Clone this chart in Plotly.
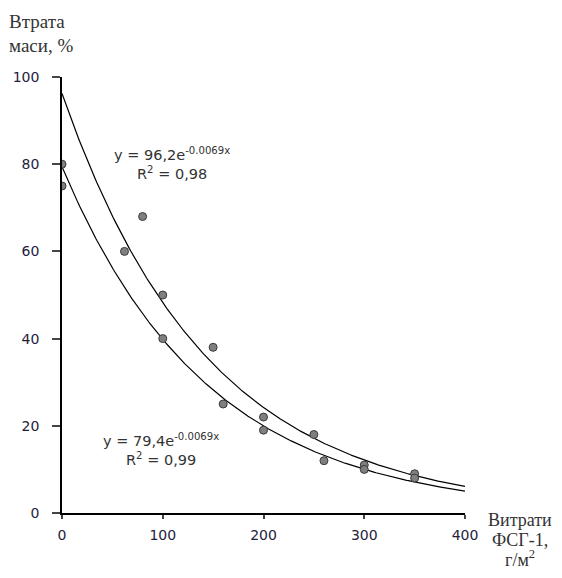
import numpy as np
import plotly.graph_objects as go

# Data
x_upper = [0, 62, 80, 100, 150, 200, 250, 300, 350]
y_upper = [80, 60, 68, 50, 38, 22, 18, 11, 9]
x_lower = [0, 100, 160, 200, 260, 300, 350]
y_lower = [75, 40, 25, 19, 12, 10, 8]

# Trendline parameters (from equations on the chart)
a_upper, b_upper = 96.2, -0.0069
a_lower, b_lower = 79.4, -0.0069

x_ticks = [0, 100, 200, 300, 400]
y_ticks = [0, 20, 40, 60, 80, 100]

xs = np.linspace(0, 400, 300)

fig = go.Figure()
marker = dict(size=8, color="#7f7f7f", line=dict(color="#3a3a3a", width=1))
fig.add_trace(go.Scatter(x=xs, y=a_upper * np.exp(b_upper * xs), mode="lines",
                         line=dict(color="black", width=1.2), showlegend=False, hoverinfo="skip"))
fig.add_trace(go.Scatter(x=xs, y=a_lower * np.exp(b_lower * xs), mode="lines",
                         line=dict(color="black", width=1.2), showlegend=False, hoverinfo="skip"))
fig.add_trace(go.Scatter(x=x_upper, y=y_upper, mode="markers", marker=marker, showlegend=False))
fig.add_trace(go.Scatter(x=x_lower, y=y_lower, mode="markers", marker=marker, showlegend=False))

OFF = 8  # page body margin
W, H = 546, 562
L, T = 62 - OFF, 77 - OFF
R = W - (465 - OFF)
B = H - (513 - OFF)
pw, ph = W - L - R, H - T - B


def px(xp):
    return (xp - OFF - L) / pw


def py(yp):
    return (H - B - (yp - OFF)) / ph


tickfont = dict(family="DejaVu Sans, Verdana, sans-serif", size=14, color="#241c3c")
eqfont = dict(family="DejaVu Sans, Verdana, sans-serif", size=14.5, color="#333333")
serif = dict(family="Liberation Serif, Times New Roman, serif", size=19, color="#333333")
serif_x = dict(family="Liberation Serif, Times New Roman, serif", size=18, color="#333333")

annotations = []


def txt(text, x, y, font, xanchor="center"):
    annotations.append(dict(text=text, xref="paper", yref="paper", x=px(x), y=py(y),
                            xanchor=xanchor, yanchor="middle", showarrow=False, font=font,
                            align="center"))


txt("y = 96,2e<sup>-0.0069x</sup><br>R<sup>2</sup> = 0,98", 172, 163, eqfont)
txt("y = 79,4e<sup>-0.0069x</sup><br>R<sup>2</sup> = 0,99", 161, 449, eqfont)
txt("Втрата", 7, 21, serif, xanchor="left")
txt("маси, %", 7, 46, serif, xanchor="left")
txt("Витрати", 520, 520, serif_x)
txt("ФСГ-1,", 520, 540, serif_x)
txt("г/м<sup>2</sup>", 520, 558, serif_x)

fig.update_layout(
    width=W, height=H,
    margin=dict(l=L, r=R, t=T, b=B),
    paper_bgcolor="white", plot_bgcolor="white",
    xaxis=dict(range=[0, 400], tickvals=x_ticks, ticks="outside", ticklen=4, tickwidth=1.5,
               showline=True, linecolor="black", linewidth=1.5, showgrid=False, zeroline=False,
               tickfont=tickfont, ticklabelstandoff=4, automargin=False),
    yaxis=dict(range=[0, 100], tickvals=y_ticks, ticks="outside", ticklen=8, tickwidth=1.5,
               showline=True, linecolor="black", linewidth=1.5, showgrid=False, zeroline=False,
               tickfont=tickfont, ticklabelstandoff=10, automargin=False),
    font=dict(family="DejaVu Sans, sans-serif"),
    annotations=annotations,
)

fig.write_html("out.html")
